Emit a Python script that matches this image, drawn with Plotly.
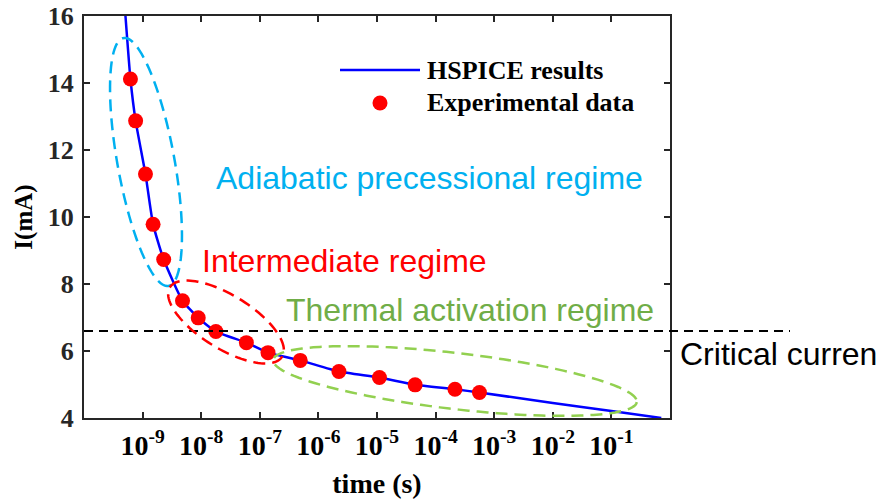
import numpy as np
import plotly.graph_objects as go

# ---- data -------------------------------------------------------------
# HSPICE simulated switching current vs. pulse time
hspice_t = [5.1e-10, 6.2e-10, 7.6e-10, 1.12e-9, 1.51e-9, 2.29e-9, 4.8e-9,
            8.9e-9, 1.78e-8, 5.9e-8, 1.38e-7, 4.9e-7, 2.24e-6, 1.10e-5,
            4.47e-5, 2.14e-4, 5.6e-4, 1e-2, 1e-1, 0.71]
hspice_i = [16.0, 14.12, 12.87, 11.28, 9.78, 8.73, 7.50,
            6.99, 6.58, 6.25, 5.95, 5.72, 5.39, 5.21,
            4.99, 4.86, 4.76, 4.45, 4.21, 4.0]

# measured switching current
exp_t = [6.2e-10, 7.6e-10, 1.12e-9, 1.51e-9, 2.29e-9, 4.8e-9, 8.9e-9,
         1.78e-8, 5.9e-8, 1.38e-7, 4.9e-7, 2.24e-6, 1.10e-5, 4.47e-5,
         2.14e-4, 5.6e-4]
exp_i = [14.12, 12.87, 11.28, 9.78, 8.73, 7.50, 6.99,
         6.58, 6.25, 5.95, 5.72, 5.39, 5.21, 4.99,
         4.86, 4.76]

critical_i = 6.6

x_tick_vals = [1e-9, 1e-8, 1e-7, 1e-6, 1e-5, 1e-4, 1e-3, 1e-2, 1e-1]
x_tick_text = ['10<sup>-9</sup>', '10<sup>-8</sup>', '10<sup>-7</sup>',
               '10<sup>-6</sup>', '10<sup>-5</sup>', '10<sup>-4</sup>',
               '10<sup>-3</sup>', '10<sup>-2</sup>', '10<sup>-1</sup>']
y_tick_vals = [4, 6, 8, 10, 12, 14, 16]

# ---- layout geometry (pixels) ----------------------------------------
W, H = 880, 503
PL, PR, PT, PB = 84, 670, 16, 418          # plot-area edges


def px(x):
    return (x - PL) / (PR - PL)


def py(y):
    return (PB - y) / (PB - PT)


def ellipse_path(cx, cy, a, b, theta_deg, n=120):
    th = np.radians(theta_deg)
    t = np.linspace(0, 2 * np.pi, n)
    xs = cx + a * np.cos(t) * np.cos(th) - b * np.sin(t) * np.sin(th)
    ys = cy + a * np.cos(t) * np.sin(th) + b * np.sin(t) * np.cos(th)
    pts = [f"{px(x):.5f},{py(y):.5f}" for x, y in zip(xs, ys)]
    return "M " + " L ".join(pts) + " Z"


SERIF = "Liberation Serif, Times New Roman, serif"
SANS = "Liberation Sans, Arial, sans-serif"
AXC = "#262626"

fig = go.Figure()

fig.add_trace(go.Scatter(
    x=hspice_t, y=hspice_i, mode="lines",
    line=dict(color="#0000FF", width=2.5, shape="spline", smoothing=0.5),
    showlegend=False, hoverinfo="skip"))

fig.add_trace(go.Scatter(
    x=exp_t, y=exp_i, mode="markers",
    marker=dict(color="#FF0000", size=15, line=dict(width=0)),
    showlegend=False))

shapes = []
# critical-current reference line (runs past the right axis)
shapes.append(dict(type="line", xref="paper", yref="y",
                   x0=0, x1=px(790), y0=critical_i, y1=critical_i,
                   line=dict(color="black", width=2, dash="9px,6px"),
                   layer="above"))
# regime outlines
shapes.append(dict(type="path", xref="paper", yref="paper",
                   path=ellipse_path(146, 162, 126, 28.5, 79.7),
                   line=dict(color="#00B0F0", width=2.5, dash="12px,7px")))
shapes.append(dict(type="path", xref="paper", yref="paper",
                   path=ellipse_path(226, 322, 66, 26.7, 31.7),
                   line=dict(color="#FF0000", width=2.5, dash="12px,7px")))
shapes.append(dict(type="path", xref="paper", yref="paper",
                   path=ellipse_path(455, 381, 183, 28, 6.6),
                   line=dict(color="#92D050", width=2.5, dash="12px,7px")))
# legend glyphs
shapes.append(dict(type="line", xref="paper", yref="paper",
                   x0=px(340), x1=px(420), y0=py(70), y1=py(70),
                   line=dict(color="#0000FF", width=2.5)))
shapes.append(dict(type="circle", xref="paper", yref="paper",
                   x0=px(372.5), x1=px(387.5), y0=py(95.5), y1=py(110.5),
                   fillcolor="#FF0000", line=dict(width=0)))

annotations = [
    dict(text="HSPICE results", x=px(425), y=py(70), xanchor="left",
         yanchor="middle", font=dict(family=SERIF, size=26, color="black", weight="bold")),
    dict(text="Experimental data", x=px(425), y=py(103), xanchor="left",
         yanchor="middle", font=dict(family=SERIF, size=26, color="black", weight="bold")),
    dict(text="Adiabatic precessional regime", x=px(214), y=py(178), xanchor="left",
         yanchor="middle", font=dict(family=SANS, size=32, color="#00B0F0")),
    dict(text="Intermediate regime", x=px(200), y=py(261), xanchor="left",
         yanchor="middle", font=dict(family=SANS, size=32, color="#FF0000")),
    dict(text="Thermal activation regime", x=px(284), y=py(310), xanchor="left",
         yanchor="middle", font=dict(family=SANS, size=32, color="#70AD47")),
    dict(text="Critical curren", x=px(678), y=py(354), xanchor="left",
         yanchor="middle", font=dict(family=SANS, size=32, color="black")),
]
for a in annotations:
    a.update(xref="paper", yref="paper", showarrow=False)

fig.update_layout(
    width=W, height=H,
    margin=dict(l=PL, r=W - PR, t=PT, b=H - PB, pad=0, autoexpand=False),
    paper_bgcolor="white", plot_bgcolor="white",
    shapes=shapes, annotations=annotations,
    xaxis=dict(type="log", range=[-10, 0], automargin=False,
               tickvals=x_tick_vals, ticktext=x_tick_text,
               ticks="inside", ticklen=6, tickwidth=1.5, tickcolor=AXC,
               showline=True, linecolor=AXC, linewidth=2, mirror="ticks",
               showgrid=False, zeroline=False, ticklabelstandoff=1,
               tickfont=dict(family=SERIF, size=28, color="black", weight="bold"),
               title=dict(text="time (s)", standoff=14,
                          font=dict(family=SERIF, size=28, color="black", weight="bold"))),
    yaxis=dict(range=[4, 16], tickvals=y_tick_vals, automargin=False,
               ticks="inside", ticklen=6, tickwidth=1.5, tickcolor=AXC,
               showline=True, linecolor=AXC, linewidth=2, mirror="ticks",
               showgrid=False, zeroline=False, ticklabelstandoff=3,
               tickfont=dict(family=SERIF, size=26, color=AXC, weight="bold"),
               title=dict(text="I(mA)", standoff=8,
                          font=dict(family=SERIF, size=25, color="black", weight="bold"))),
)

fig.write_html("out.html")
